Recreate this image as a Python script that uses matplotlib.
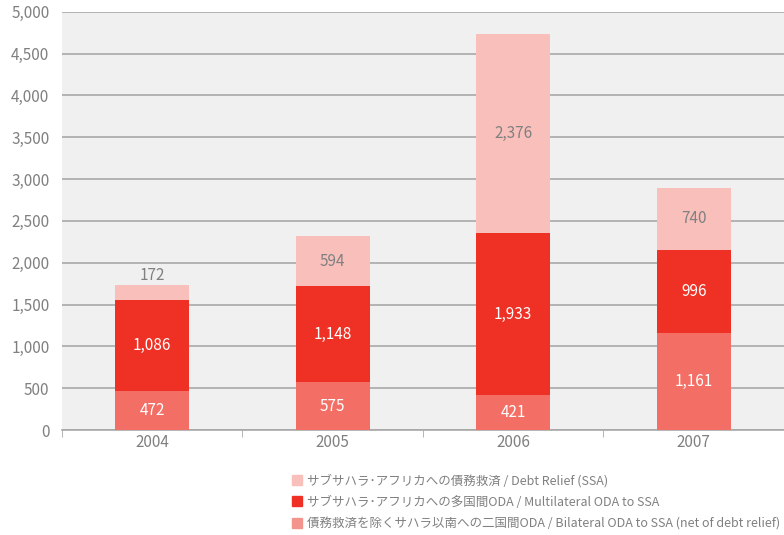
import numpy as np
import matplotlib.pyplot as plt
from matplotlib.patches import Patch

plt.rcParams['font.family'] = ['Noto Sans CJK JP', 'DejaVu Sans']

years = ["2004", "2005", "2006", "2007"]
bilateral = [472, 575, 421, 1161]
multilateral = [1086, 1148, 1933, 996]
debt_relief = [172, 594, 2376, 740]

labels = [
    "サブサハラ･アフリカへの債務救済 / Debt Relief (SSA)",
    "サブサハラ･アフリカへの多国間ODA / Multilateral ODA to SSA",
    "債務救済を除くサハラ以南への二国間ODA / Bilateral ODA to SSA (net of debt relief)",
]

c_debt = "#f9c0bb"
c_multi = "#ee3124"
c_bi = "#f36f65"
grey = "#808080"


def fmt(v):
    return "{:,}".format(v)


def main():
    fig = plt.figure(figsize=(7.84, 5.35), dpi=100)
    ax = fig.add_axes([0.079, 0.196, 0.921, 0.782])
    ax.set_facecolor("#f0f0f0")

    x = np.arange(len(years))
    w = 0.41
    bi = np.array(bilateral)
    mu = np.array(multilateral)
    de = np.array(debt_relief)
    ax.bar(x, bi, w, color=c_bi, zorder=3)
    ax.bar(x, mu, w, bottom=bi, color=c_multi, zorder=3)
    ax.bar(x, de, w, bottom=bi + mu, color=c_debt, zorder=3)

    for i in range(len(years)):
        ax.text(x[i], bi[i] / 2, fmt(bi[i]), ha="center", va="center",
                color="white", fontsize=11, zorder=4)
        ax.text(x[i], bi[i] + mu[i] / 2, fmt(mu[i]), ha="center", va="center",
                color="white", fontsize=11, zorder=4)
        top = bi[i] + mu[i]
        if de[i] < 300:
            ax.text(x[i], top + de[i] + 20, fmt(de[i]), ha="center", va="bottom",
                    color=grey, fontsize=11, zorder=4)
        else:
            ax.text(x[i], top + de[i] / 2, fmt(de[i]), ha="center", va="center",
                    color=grey, fontsize=11, zorder=4)

    ax.set_xlim(-0.5, 3.5)
    ax.set_ylim(0, 5000)
    ax.set_yticks(np.arange(0, 5001, 500))
    ax.set_yticklabels([fmt(v) for v in range(0, 5001, 500)])
    ax.yaxis.grid(True, color="#a8a8a8", linewidth=1.2, zorder=1)
    ax.tick_params(axis="y", length=0, labelsize=11, labelcolor=grey, pad=9)

    ax.set_xticks(x)
    ax.set_xticklabels(years)
    ax.set_xticks(np.arange(-0.5, 3.6, 1), minor=True)
    ax.tick_params(axis="x", which="major", length=0, labelsize=11,
                   labelcolor=grey, pad=3)
    ax.tick_params(axis="x", which="minor", length=5, color="#a8a8a8")

    for s in ["top", "right", "left"]:
        ax.spines[s].set_visible(False)
    ax.spines["bottom"].set_color("#a8a8a8")
    ax.spines["bottom"].set_linewidth(1.2)

    handles = [Patch(color=c_debt), Patch(color=c_multi), Patch(color="#f4958d")]
    fig.legend(handles, labels, loc="upper left", bbox_to_anchor=(0.372, 0.115),
               frameon=False, fontsize=9, labelcolor=grey, handlelength=0.85,
               handleheight=0.85, handletextpad=0.4, labelspacing=0.68,
               borderaxespad=0, borderpad=0)

    fig.savefig("out.png", dpi=100)


if __name__ == '__main__':
    main()
